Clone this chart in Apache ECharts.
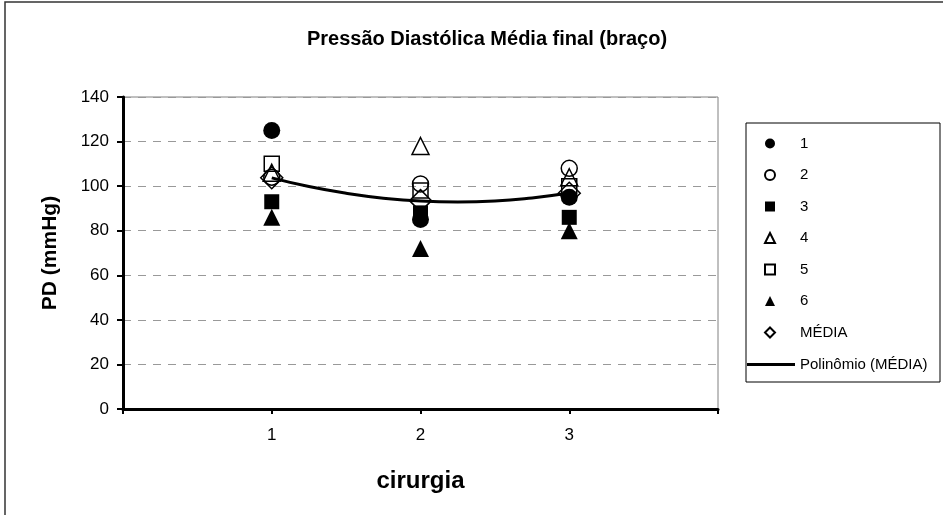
<!DOCTYPE html>
<html><head><meta charset="utf-8">
<script src="https://cdn.jsdelivr.net/npm/echarts@6/dist/echarts.min.js"></script>
<style>html,body{margin:0;padding:0;background:#fff}#c{width:943px;height:515px}</style>
</head><body><div id="c"></div>
<script>
const cirurgias = [1, 2, 3];
const s1 = [125, 85, 95];
const s2 = [104, 101, 108];
const s3 = [93, 88, 86];
const s4 = [106, 118, 104];
const s5 = [110, 98, 100];
const s6 = [86, 72, 80];
const media = [103.8, 93.5, 96.8];
const trendX = [1, 1.25, 1.5, 1.75, 2, 2.25, 2.5, 2.75, 3];
const trendY = [103.7, 99.8, 96.8, 94.6, 93.3, 92.9, 93.3, 94.7, 96.9];
const yTicks = [0, 20, 40, 60, 80, 100, 120, 140];
const xTickLabels = ['', '1', '2', '3', ''];

const FONT = 'Liberation Sans, Arial, sans-serif';
const pair = (arr) => cirurgias.map((c, i) => [c, arr[i]]);
const open = {color: 'transparent', borderColor: '#000', borderWidth: 1.5, opacity: 1};
const fill = {color: '#000', opacity: 1};
function sc(name, data, symbol, size, style) {
  return {type: 'scatter', name, data: pair(data), symbol, symbolSize: size,
    itemStyle: style, emphasis: {disabled: true}, z: 3};
}
const chart = echarts.init(document.getElementById('c'), null, {renderer: 'canvas'});
chart.setOption({
  animation: false,
  backgroundColor: '#fff',
  title: {text: 'Pressão Diastólica Média final (braço)', left: 482, top: 24, textAlign: 'center',
    textStyle: {fontFamily: FONT, fontSize: 20, fontWeight: 'bold', color: '#000'}},
  grid: {left: 123, right: 225, top: 97, bottom: 106, show: true, borderColor: '#808080', borderWidth: 1},
  xAxis: {type: 'value', min: 0, max: 4, interval: 1,
    name: 'cirurgia', nameLocation: 'middle', nameGap: 60,
    nameTextStyle: {fontFamily: FONT, fontSize: 24, fontWeight: 'bold', color: '#000'},
    axisLine: {lineStyle: {color: '#000', width: 3}},
    axisTick: {show: true, length: 5, lineStyle: {color: '#000', width: 2}},
    axisLabel: {fontFamily: FONT, fontSize: 17, color: '#000', margin: 18,
      formatter: (v) => xTickLabels[v] ?? ''},
    splitLine: {show: false}},
  yAxis: {type: 'value', min: 0, max: 140, interval: 20,
    name: 'PD (mmHg)', nameLocation: 'middle', nameGap: 62, nameRotate: 90,
    nameTextStyle: {fontFamily: FONT, fontSize: 21, fontWeight: 'bold', color: '#000'},
    axisLine: {lineStyle: {color: '#000', width: 3}},
    axisTick: {show: true, length: 6, lineStyle: {color: '#000', width: 2}},
    axisLabel: {fontFamily: FONT, fontSize: 17, color: '#000', margin: 14,
      formatter: (v) => yTicks.includes(v) ? String(v) : ''},
    splitLine: {show: true, lineStyle: {color: '#999', type: [8, 7], width: 1}}},
  legend: [{
    orient: 'vertical', left: 759, top: 131, itemWidth: 10, itemHeight: 10, itemGap: 16.5,
    data: ['1', '2', '3', '4', '5', '6', 'MÉDIA'],
    textStyle: {fontFamily: FONT, fontSize: 15, color: '#000', lineHeight: 15, padding: [0, 0, 0, 20]},
    selectedMode: false
  }, {
    orient: 'vertical', left: 742, top: 352, itemWidth: 48, itemHeight: 3,
    data: [{name: 'Polinômio (MÉDIA)', icon: 'rect'}],
    textStyle: {fontFamily: FONT, fontSize: 15, color: '#000', lineHeight: 15},
    selectedMode: false
  }],
  graphic: [
    {type: 'rect', shape: {x: 5, y: 2, width: 945, height: 520}, style: {fill: 'none', stroke: '#333', lineWidth: 1.5}, silent: true},
    {type: 'rect', shape: {x: 746, y: 123, width: 194, height: 259}, style: {fill: 'none', stroke: '#000', lineWidth: 1}, silent: true}
  ],
  series: [
    sc('1', s1, 'circle', 17, fill),
    sc('2', s2, 'circle', 16, open),
    sc('3', s3, 'rect', 15, fill),
    sc('4', s4, 'triangle', 17, open),
    sc('5', s5, 'rect', 15, open),
    sc('6', s6, 'triangle', 17, fill),
    sc('MÉDIA', media, 'diamond', 22, open),
    {type: 'line', name: 'Polinômio (MÉDIA)', data: trendX.map((x, i) => [x, trendY[i]]),
      smooth: true, showSymbol: false, symbol: 'none',
      lineStyle: {color: '#000', width: 3}, itemStyle: {color: '#000'}, z: 4, emphasis: {disabled: true}}
  ]
});
</script></body></html>
